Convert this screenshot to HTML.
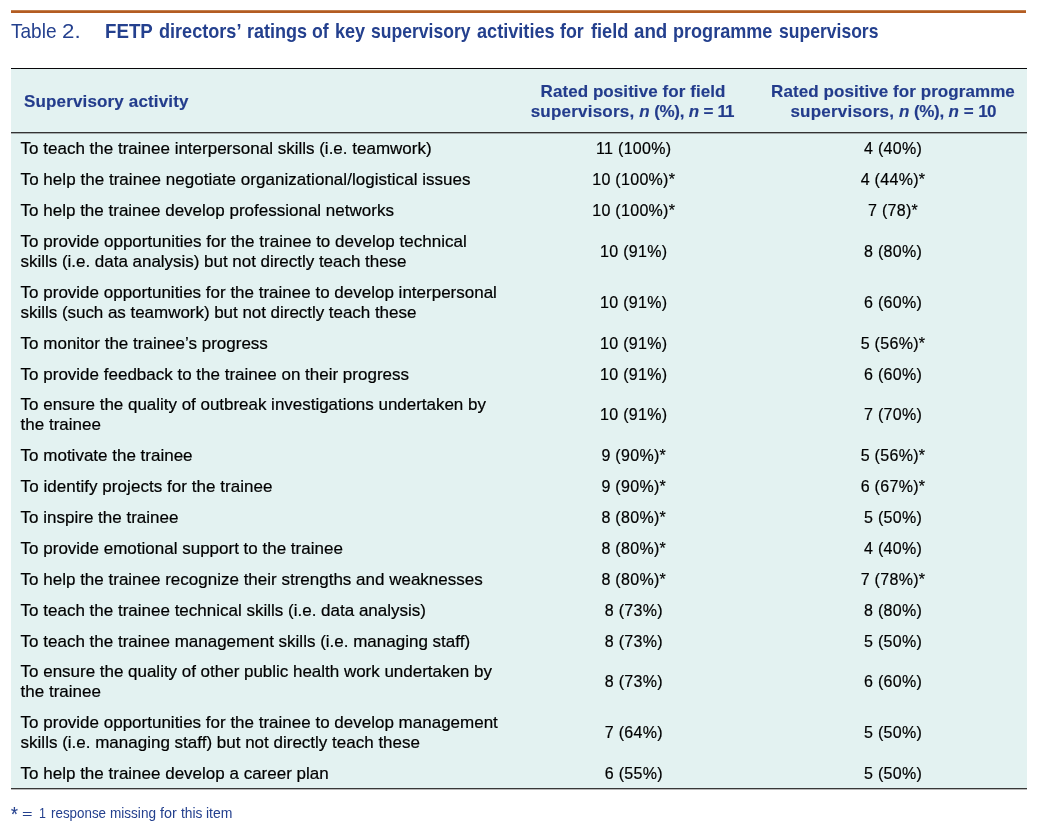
<!DOCTYPE html>
<html lang="en">
<head>
<meta charset="utf-8">
<title>Table 2</title>
<style>
html,body{margin:0;padding:0;background:#fff;}
body{width:1041px;height:833px;position:relative;overflow:hidden;font-family:"Liberation Sans",sans-serif;color:#111;}
.rule{position:absolute;left:11px;top:10px;width:1015px;height:3px;background:linear-gradient(#c4804e 0,#c4804e 1px,#b35c22 1px,#b35c22 3px);}
.cap{position:absolute;left:12px;top:19px;height:24px;line-height:24px;font-size:20px;color:#24408e;white-space:nowrap;}
.cap span{display:inline-block;transform-origin:0 50%;}
.cap .lbl{position:absolute;left:-0.7px;top:0;font-size:21px;transform:scaleX(0.907);}
.cap .l2{left:50.2px;transform:scaleX(1.06);}
.cap .ttl{position:absolute;left:0;top:0;font-weight:bold;font-size:21px;}
.cap .ttl span{position:absolute;top:0;}
table{position:absolute;left:11px;top:68px;width:1016px;border-collapse:separate;border-spacing:0;table-layout:fixed;background:#e3f2f1;border-top:1px solid #08080a;border-bottom:1px solid #383838;box-shadow:0 1px 0 #b9b9b9;}
col.c1{width:492px;}col.c2{width:258px;}col.c3{width:266px;}
th{height:64px;padding:3px 0 0 0;box-sizing:border-box;font-size:17px;line-height:20px;color:#233c8c;-webkit-text-stroke:0.15px #233c8c;font-weight:bold;vertical-align:middle;text-align:center;border-bottom:1px solid #333;box-shadow:0 1px 0 #a3abab;}
th.l{text-align:left;padding-left:13px;letter-spacing:0.15px;}
th:nth-child(2){padding-left:2px;}
td:nth-child(2){padding-left:3.5px;}
th:nth-child(3),td:nth-child(3){padding-right:2px;}
th .w{letter-spacing:0.07px;}
th .sv{letter-spacing:0.22px;}
th .tn{letter-spacing:-0.8px;}
th .pc{letter-spacing:-0.35px;}
th .el{letter-spacing:-1px;margin-right:1.8px;}
th .eq{word-spacing:-0.5px;}
td{color:#000;-webkit-text-stroke:0.2px #000;padding:6px 0 5px 0;font-size:16px;letter-spacing:0.3px;line-height:20px;text-align:center;vertical-align:top;}
td.l{text-align:left;padding:6px 0 5px 9.6px;font-size:17px;letter-spacing:0;-webkit-text-stroke:0.2px #000;}
tr.s td{padding-bottom:4px;}
tr.s td.l{padding-bottom:4px;}
tr.d td{padding-top:16px;}
tr.d td.l{padding-top:6px;}
.fn{position:absolute;left:11px;top:803px;height:20px;font-size:15.5px;line-height:20px;color:#24408e;white-space:nowrap;}
.fn span{position:absolute;top:0;display:inline-block;transform-origin:0 50%;}
.fn .a{left:0;transform:scaleX(0.919);}
.fn .a1{left:0.1px;font-size:19.5px;top:1.4px;-webkit-text-stroke:0.15px #24408e;transform:scaleX(0.9);}
.fn .a2{left:11.1px;transform:translateY(1.6px) scale(1.16,0.78);}
.fn .a3{left:27.9px;font-size:15.5px;top:0;transform:scaleX(0.8);}
.fn .b{left:40.3px;transform:scaleX(0.8886);}
</style>
</head>
<body>
<div class="rule"></div>
<div class="cap"><span class="lbl">Table</span> <span class="lbl l2">2.</span><span class="ttl"><span style="left:93.31px;transform:scaleX(0.8903)">FETP</span> <span style="left:146.50px;transform:scaleX(0.8617)">directors’</span> <span style="left:234.67px;transform:scaleX(0.8586)">ratings</span> <span style="left:300.06px;transform:scaleX(0.8400)">of</span> <span style="left:323.29px;transform:scaleX(0.8612)">key</span> <span style="left:358.68px;transform:scaleX(0.8354)">supervisory</span> <span style="left:464.73px;transform:scaleX(0.8630)">activities</span> <span style="left:548.34px;transform:scaleX(0.8489)">for</span> <span style="left:579.24px;transform:scaleX(0.8665)">field</span> <span style="left:621.80px;transform:scaleX(0.8918)">and</span> <span style="left:661.07px;transform:scaleX(0.8604)">programme</span> <span style="left:766.64px;transform:scaleX(0.8351)">supervisors</span></span></div>
<table>
<colgroup><col class="c1"><col class="c2"><col class="c3"></colgroup>
<thead>
<tr><th class="l">Supervisory activity</th><th><span class="w">Rated positive for field</span><br><span class="sv">supervisors,</span> <i>n</i> <span class="pc">(%),</span> <i>n</i><span class="eq"> = </span><span class="el">11</span></th><th><span class="w">Rated positive for programme</span><br><span class="sv">supervisors,</span> <i>n</i> <span class="pc">(%),</span> <i>n</i> = <span class="tn">10</span></th></tr>
</thead>
<tbody>
<tr><td class="l">To teach the trainee interpersonal skills (i.e. teamwork)</td><td>11 (100%)</td><td>4 (40%)</td></tr>
<tr><td class="l"><span style="letter-spacing:0.033px">To help the trainee negotiate organizational/logistical issues</span></td><td>10 (100%)*</td><td>4 (44%)*</td></tr>
<tr><td class="l">To help the trainee develop professional networks</td><td>10 (100%)*</td><td>7 (78)*</td></tr>
<tr class="d"><td class="l"><span style="letter-spacing:0.017px">To provide opportunities for the trainee to develop technical</span><br><span style="letter-spacing:-0.027px">skills (i.e. data analysis) but not directly teach these</span></td><td>10 (91%)</td><td>8 (80%)</td></tr>
<tr class="d"><td class="l">To provide opportunities for the trainee to develop interpersonal<br><span style="letter-spacing:-0.038px">skills (such as teamwork) but not directly teach these</span></td><td>10 (91%)</td><td>6 (60%)</td></tr>
<tr><td class="l">To monitor the trainee’s progress</td><td>10 (91%)</td><td>5 (56%)*</td></tr>
<tr class="s"><td class="l">To provide feedback to the trainee on their progress</td><td>10 (91%)</td><td>6 (60%)</td></tr>
<tr class="d"><td class="l"><span style="letter-spacing:-0.025px">To ensure the quality of outbreak investigations undertaken by</span><br>the trainee</td><td>10 (91%)</td><td>7 (70%)</td></tr>
<tr><td class="l">To motivate the trainee</td><td>9 (90%)*</td><td>5 (56%)*</td></tr>
<tr><td class="l"><span style="letter-spacing:0.043px">To identify projects for the trainee</span></td><td>9 (90%)*</td><td>6 (67%)*</td></tr>
<tr><td class="l">To inspire the trainee</td><td>8 (80%)*</td><td>5 (50%)</td></tr>
<tr><td class="l">To provide emotional support to the trainee</td><td>8 (80%)*</td><td>4 (40%)</td></tr>
<tr><td class="l">To help the trainee recognize their strengths and weaknesses</td><td>8 (80%)*</td><td>7 (78%)*</td></tr>
<tr><td class="l">To teach the trainee technical skills (i.e. data analysis)</td><td>8 (73%)</td><td>8 (80%)</td></tr>
<tr class="s"><td class="l">To teach the trainee management skills (i.e. managing staff)</td><td>8 (73%)</td><td>5 (50%)</td></tr>
<tr class="d"><td class="l"><span style="letter-spacing:-0.019px">To ensure the quality of other public health work undertaken by</span><br>the trainee</td><td>8 (73%)</td><td>6 (60%)</td></tr>
<tr class="d"><td class="l">To provide opportunities for the trainee to develop management<br>skills (i.e. managing staff) but not directly teach these</td><td>7 (64%)</td><td>5 (50%)</td></tr>
<tr class="s"><td class="l">To help the trainee develop a career plan</td><td>6 (55%)</td><td>5 (50%)</td></tr>
</tbody>
</table>
<div class="fn"><span class="a a1">*</span> <span class="a a2">=</span> <span class="a a3">1</span> <span class="b" style="left:40.04px;transform:scaleX(0.8627)">response</span> <span class="b" style="left:98.93px;transform:scaleX(0.8748)">missing</span> <span class="b" style="left:149.20px;transform:scaleX(0.9285)">for</span> <span class="b" style="left:170.20px;transform:scaleX(0.8900)">this</span> <span class="b" style="left:195.40px;transform:scaleX(0.9026)">item</span></div>
</body>
</html>
